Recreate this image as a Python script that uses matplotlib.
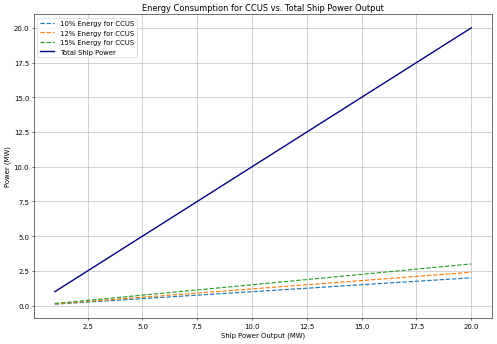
import matplotlib
matplotlib.use("Agg")
import matplotlib.pyplot as plt

ship_power = [1, 2, 3, 4, 5, 6, 7, 8, 9, 10, 11, 12, 13, 14, 15, 16, 17, 18, 19, 20]
ccus_10 = [0.1, 0.2, 0.3, 0.4, 0.5, 0.6, 0.7, 0.8, 0.9, 1.0, 1.1, 1.2, 1.3, 1.4, 1.5, 1.6, 1.7, 1.8, 1.9, 2.0]
ccus_12 = [0.12, 0.24, 0.36, 0.48, 0.6, 0.72, 0.84, 0.96, 1.08, 1.2, 1.32, 1.44, 1.56, 1.68, 1.8, 1.92, 2.04, 2.16, 2.28, 2.4]
ccus_15 = [0.15, 0.3, 0.45, 0.6, 0.75, 0.9, 1.05, 1.2, 1.35, 1.5, 1.65, 1.8, 1.95, 2.1, 2.25, 2.4, 2.55, 2.7, 2.85, 3.0]
total_power = ship_power

fig, ax = plt.subplots(figsize=(10, 6.94), dpi=49.7)
ax.plot(ship_power, ccus_10, '--', linewidth=1.7, label='10% Energy for CCUS')
ax.plot(ship_power, ccus_12, '--', linewidth=1.7, label='12% Energy for CCUS')
ax.plot(ship_power, ccus_15, '--', linewidth=1.7, label='15% Energy for CCUS')
ax.plot(ship_power, total_power, '-', color='navy', linewidth=2, label='Total Ship Power')
ax.set_title('Energy Consumption for CCUS vs. Total Ship Power Output')
ax.set_xlabel('Ship Power Output (MW)')
ax.set_ylabel('Power (MW)')
ax.legend(loc='upper left')
ax.grid(True)
fig.subplots_adjust(left=0.0684, right=0.990, top=0.9565, bottom=0.0754)
fig.savefig('out.png')
